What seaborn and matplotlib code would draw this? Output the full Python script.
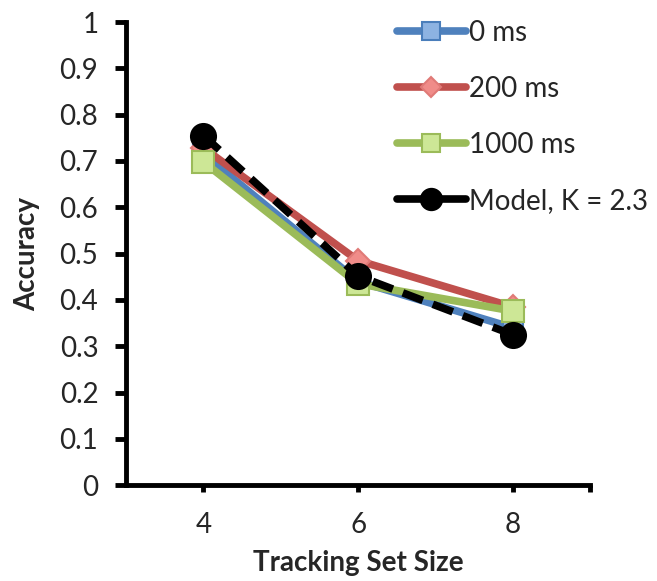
import matplotlib
matplotlib.use("Agg")
import matplotlib.pyplot as plt
import seaborn as sns
import pandas as pd

set_size = [4, 6, 8]
acc_0ms = [0.715, 0.440, 0.340]
acc_200ms = [0.728, 0.485, 0.385]
acc_1000ms = [0.698, 0.435, 0.376]
acc_model = [0.755, 0.452, 0.325]
labels = ["0 ms", "200 ms", "1000 ms", "Model, K = 2.3"]

sns.set_style("white")
plt.rcParams["font.family"] = ["Lato", "DejaVu Sans"]

df = pd.DataFrame({
    "size": set_size * 4,
    "acc": acc_0ms + acc_200ms + acc_1000ms + acc_model,
    "cond": [l for l in labels for _ in set_size],
})

fig = plt.figure(figsize=(6.57, 5.81), dpi=100)
ax = fig.add_axes([0.192, 0.165, 0.706, 0.797])

styles = {
    "0 ms": dict(color="#4F81BD", marker="s", mfc="#8DB3E2", mec="#4A7EBB", ms=15, ls="-"),
    "200 ms": dict(color="#C0504D", marker="D", mfc="#F08C89", mec="#E07A77", ms=12, ls="-"),
    "1000 ms": dict(color="#9BBB59", marker="s", mfc="#CDE796", mec="#9BBB59", ms=16, ls="-"),
    "Model, K = 2.3": dict(color="black", marker="o", mfc="black", mec="black", ms=18, ls=(0, (2.8, 1.4))),
}

for lab in labels:
    st = styles[lab]
    sub = df[df["cond"] == lab]
    sns.lineplot(data=sub, x="size", y="acc", ax=ax, label=lab, color=st["color"],
                 linestyle=st["ls"], linewidth=5.5, marker=st["marker"],
                 markersize=st["ms"], markerfacecolor=st["mfc"],
                 markeredgecolor=st["mec"], markeredgewidth=1.5, zorder=3)

ax.set_xlim(3, 9)
ax.set_ylim(0, 1)
ax.set_xticks(set_size)
ax.set_xticks([9], minor=True)
ax.set_yticks([i / 10 for i in range(11)])
ax.set_yticklabels(["0", "0.1", "0.2", "0.3", "0.4", "0.5", "0.6", "0.7", "0.8", "0.9", "1"])

for s in ["top", "right"]:
    ax.spines[s].set_visible(False)
for s in ["left", "bottom"]:
    ax.spines[s].set_linewidth(3.5)
    ax.spines[s].set_color("black")

ax.tick_params(axis="y", which="major", direction="out", length=8, width=3.5,
               labelsize=20, pad=12, left=True, colors="black", labelcolor="#262626")
ax.tick_params(axis="x", which="both", direction="out", length=5, width=3.5,
               labelsize=20, pad=14, bottom=True, colors="black", labelcolor="#262626")

ax.set_xlabel("Tracking Set Size", fontsize=20, fontweight="bold", labelpad=9, color="#262626")
ax.set_ylabel("Accuracy", fontsize=20, fontweight="bold", labelpad=14, color="#262626")

leg = ax.legend(loc="upper left", bbox_to_anchor=(0.583, 1.005), frameon=False,
                fontsize=20, handlelength=2.5, handletextpad=0.12,
                labelspacing=1.08, borderaxespad=0, borderpad=0)
for t in leg.get_texts():
    t.set_color("#262626")
leg.get_lines()[3].set_linestyle("-")
for ln in leg.get_lines():
    ln.set_markersize(ln.get_markersize() * 0.85)

fig.savefig("out.png", dpi=100)
